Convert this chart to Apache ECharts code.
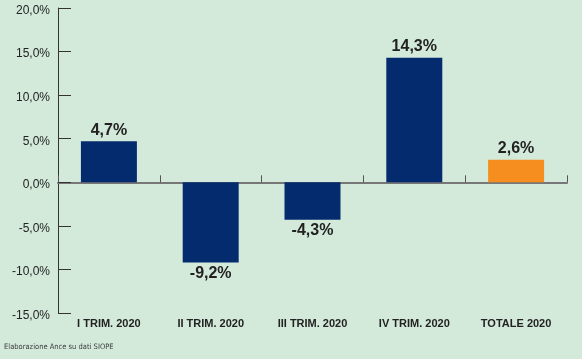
<!DOCTYPE html>
<html><head><meta charset="utf-8">
<script src="https://cdn.jsdelivr.net/npm/echarts@6/dist/echarts.min.js"></script>
<style>html,body{margin:0;padding:0;background:#d3eadb;}#c{width:582px;height:359px;}</style>
</head><body><div id="c"></div>
<script>
const categories = ['I TRIM. 2020', 'II TRIM. 2020', 'III TRIM. 2020', 'IV TRIM. 2020', 'TOTALE 2020'];
const values = [4.7, -9.2, -4.3, 14.3, 2.6];
const barColors = ['#052b6f', '#052b6f', '#052b6f', '#052b6f', '#f58e1f'];
const yTicks = [-15, -10, -5, 0, 5, 10, 15, 20];
const note = 'Elaborazione Ance su dati SIOPE';

const FONT = '"Liberation Sans", Arial, sans-serif';
const NARROW = '"DejaVu Sans Condensed", "Liberation Sans", sans-serif';
const fmt = v => v.toFixed(1).replace('.', ',') + '%';

const chart = echarts.init(document.getElementById('c'));
chart.setOption({
  backgroundColor: '#d3eadb',
  animation: false,
  grid: {left: 58, right: 15, top: 8, bottom: 46},
  graphic: [{type: 'text', left: 4, top: 343, style: {text: note, fontFamily: NARROW, fontSize: 7.5, fill: '#3a3a3a'}}],
  xAxis: [{
    type: 'category', data: categories,
    axisLine: {onZero: true, lineStyle: {color: '#777', width: 2}},
    axisTick: {show: true, inside: true, length: 7, lineStyle: {color: '#555', width: 1}},
    axisLabel: {show: false}
  }, {
    type: 'category', data: categories, position: 'bottom',
    axisLine: {show: false, onZero: false}, axisTick: {show: false},
    axisLabel: {show: true, interval: 0, margin: 5, fontFamily: FONT, fontSize: 11, fontWeight: 'bold', color: '#222'}
  }],
  yAxis: {
    type: 'value', min: -15, max: 20, interval: 5,
    axisLine: {show: true, lineStyle: {color: '#333', width: 1}},
    axisTick: {show: true, inside: true, length: 13, lineStyle: {color: '#333', width: 1}},
    splitLine: {show: false},
    axisLabel: {
      margin: 8,
      formatter: v => yTicks.includes(v) ? '{a|' + fmt(v) + '}' : '',
      rich: {a: {padding: [5, 0, 0, 0], fontFamily: FONT, fontSize: 12, color: '#222'}}
    }
  },
  series: [{
    type: 'bar', xAxisIndex: 0, barWidth: '55%',
    data: values.map((v, i) => ({
      value: v,
      itemStyle: {color: barColors[i]},
      label: {position: v >= 0 ? 'top' : 'bottom'}
    })),
    label: {show: true, distance: 3, fontFamily: FONT, fontSize: 16, fontWeight: 'bold', color: '#222', formatter: p => fmt(p.value)}
  }]
});
</script></body></html>
